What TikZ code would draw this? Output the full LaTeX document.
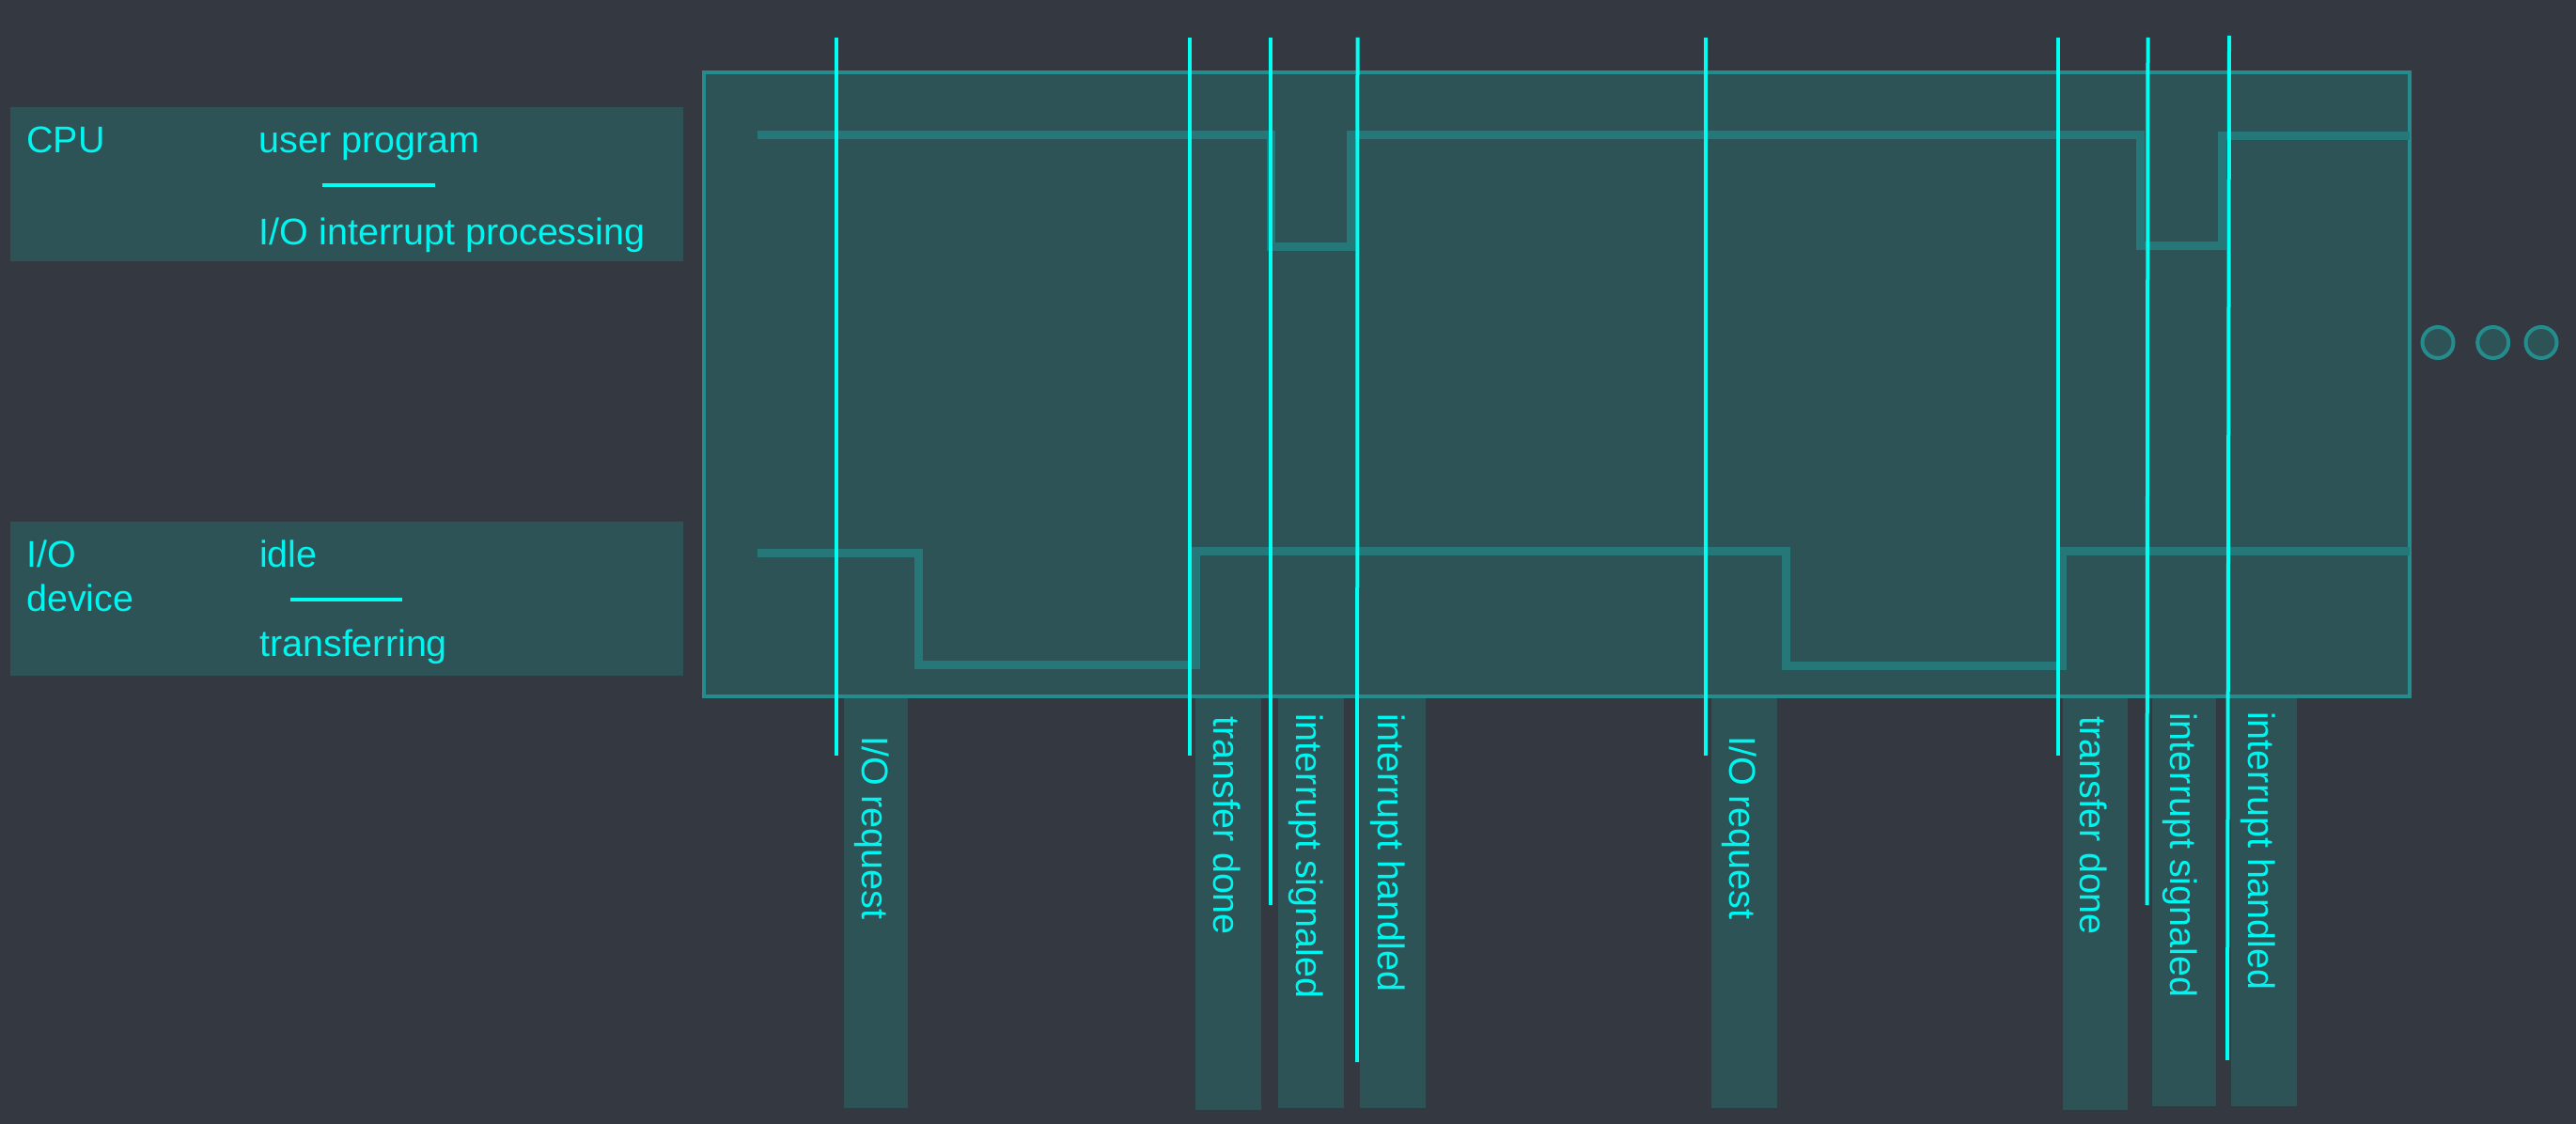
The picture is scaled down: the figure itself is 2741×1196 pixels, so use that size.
\documentclass[tikz,border=0pt]{standalone}
\usepackage{fontspec}
\setmainfont{Liberation Sans}
\definecolor{bg}{HTML}{343941}
\definecolor{panel}{HTML}{2E5357}
\definecolor{edge}{HTML}{248C8C}
\definecolor{trace}{HTML}{267878}
\definecolor{cyanline}{HTML}{00FFF0}
\definecolor{txt}{HTML}{00F5EE}
\begin{document}
\begin{tikzpicture}[x=1pt,y=-1pt,
  lbl/.style={inner sep=0pt, anchor=base west, text=txt, font=\fontsize{39.5}{47}\selectfont},
  vlbl/.style={lbl, rotate=-90},
  marker/.style={draw=cyanline, line width=4pt},
  legendline/.style={draw=cyanline, line width=4pt},
  tracepath/.style={draw=trace, line width=9pt, line join=miter},
  panelbox/.style={fill=panel},
  dotcircle/.style={draw=edge, fill=panel, line width=4pt}]
\fill[bg] (0,0) rectangle (2741,1196);
\useasboundingbox (0,0) rectangle (2741,1196);
% legend panels
\fill[panelbox] (11,114) rectangle (727,278);
\fill[panelbox] (11,555) rectangle (727,719);
\node[lbl] (cpu) at (28,163) {CPU};
\node[lbl] (userprog) at (275.5,163) {user program};
\draw[legendline] (343,197) -- (463,197);
\node[lbl] (iointr) at (275.5,260) {I/O interrupt processing};
\node[lbl] (io) at (28,603.5) {I/O};
\node[lbl] (device) at (28,650.5) {device};
\node[lbl] (idle) at (276,603.5) {idle};
\draw[legendline] (309,637.5) -- (428,637.5);
\node[lbl] (transferring) at (276,698) {transferring};
% main panel
\filldraw[fill=panel, draw=edge, line width=4pt] (749,77.5) rectangle (2564,740.5);
% label panels
\fill[panelbox] (898,742.5) rectangle (966,1179);
\fill[panelbox] (1272,742.5) rectangle (1342,1181);
\fill[panelbox] (1360,742.5) rectangle (1430,1179);
\fill[panelbox] (1447,742.5) rectangle (1517,1179);
\fill[panelbox] (1821,742.5) rectangle (1891,1179);
\fill[panelbox] (2195,742.5) rectangle (2264,1181);
\fill[panelbox] (2290,742.5) rectangle (2358,1177);
\fill[panelbox] (2374,742.5) rectangle (2444,1177);
% traces
\draw[tracepath] (806,144) -- (1352,144) -- (1352,262.5) -- (1437,262.5) -- (1437,144) -- (2277,144) -- (2277,261) -- (2364,261) -- (2364,144.5) -- (2564,144.5);
\draw[tracepath] (806,588) -- (977,588) -- (977,707.5) -- (1272.5,707.5) -- (1272.5,586.5) -- (1900,586.5) -- (1900,708) -- (2194.5,708) -- (2194.5,586) -- (2564,586);
% event markers
\draw[marker] (890,40) -- (890,804);
\draw[marker] (1266,40) -- (1266,804);
\draw[marker] (1352,40) -- (1352,963);
\draw[marker] (1444.5,40) -- (1444,1130);
\draw[marker] (1815,40) -- (1815,804);
\draw[marker] (2189.5,40) -- (2189.5,804);
\draw[marker] (2285.5,40) -- (2284.5,963);
\draw[marker] (2372,38) -- (2370,1128);
% event labels
\node[vlbl] (req1) at (917,783) {I/O request};
\node[vlbl] (done1) at (1291,762) {transfer done};
\node[vlbl] (sig1) at (1379.5,759) {interrupt signaled};
\node[vlbl] (hand1) at (1466.5,759) {interrupt handled};
\node[vlbl] (req2) at (1840.7,783) {I/O request};
\node[vlbl] (done2) at (2213.6,762) {transfer done};
\node[vlbl] (sig2) at (2309,758) {interrupt signaled};
\node[vlbl] (hand2) at (2392.7,757) {interrupt handled};
% continuation dots
\draw[dotcircle] (2594,364.5) circle (16.5);
\draw[dotcircle] (2652.7,364.5) circle (16.5);
\draw[dotcircle] (2704,364.5) circle (16.5);
\end{tikzpicture}
\end{document}
